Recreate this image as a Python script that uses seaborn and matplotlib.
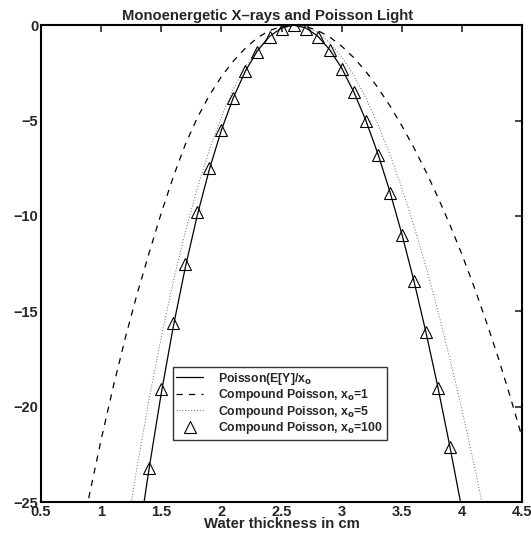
import matplotlib
matplotlib.use("Agg")
import matplotlib.pyplot as plt
import seaborn as sns
from matplotlib.lines import Line2D

# Poisson(E[Y]/x_o) solid line
x_poisson = [1.3, 1.4, 1.5, 1.6, 1.7, 1.8, 1.9, 2.0, 2.1, 2.2, 2.3, 2.4, 2.5, 2.6,
             2.7, 2.8, 2.9, 3.0, 3.1, 3.2, 3.3, 3.4, 3.5, 3.6, 3.7, 3.8, 3.9, 4.0]
y_poisson = [-27.4, -23.2, -19.3, -15.8, -12.7, -9.95, -7.56, -5.5, -3.79, -2.4, -1.34,
             -0.59, -0.15, 0.0, -0.14, -0.57, -1.28, -2.25, -3.49, -4.98, -6.72, -8.71,
             -10.94, -13.39, -16.08, -18.98, -22.1, -25.4]

# Compound Poisson, x_o=1 (dashed)
x_cp1 = [0.8, 0.9, 1.0, 1.1, 1.2, 1.3, 1.4, 1.5, 1.6, 1.7, 1.8, 1.9, 2.0, 2.1, 2.2,
         2.3, 2.4, 2.5, 2.6, 2.7, 2.8, 2.9, 3.0, 3.1, 3.2, 3.3, 3.4, 3.5, 3.6, 3.7,
         3.8, 3.9, 4.0, 4.1, 4.2, 4.3, 4.4, 4.5]
y_cp1 = [-27.9, -24.7, -21.74, -18.98, -16.42, -14.07, -11.92, -9.85, -7.95, -6.25,
         -4.85, -3.68, -2.7, -1.88, -1.2, -0.66, -0.28, -0.07, 0.0, -0.07, -0.28,
         -0.62, -1.1, -1.7, -2.42, -3.27, -4.22, -5.27, -6.42, -7.67, -9.02, -10.47,
         -12.02, -13.7, -15.5, -17.4, -19.45, -21.6]

# Compound Poisson, x_o=5 (dotted)
x_cp5 = [1.2, 1.3, 1.4, 1.5, 1.6, 1.7, 1.8, 1.9, 2.0, 2.1, 2.2, 2.3, 2.4, 2.5, 2.6,
         2.7, 2.8, 2.9, 3.0, 3.1, 3.2, 3.3, 3.4, 3.5, 3.6, 3.7, 3.8, 3.9, 4.0, 4.1, 4.2]
y_cp5 = [-26.98, -23.11, -19.57, -16.35, -13.44, -10.84, -8.54, -6.53, -4.8, -3.35,
         -2.16, -1.25, -0.58, -0.17, 0.0, -0.08, -0.38, -0.91, -1.66, -2.62, -3.8,
         -5.18, -6.76, -8.53, -10.5, -12.65, -14.98, -17.49, -20.17, -23.02, -26.03]

# Compound Poisson, x_o=100 (triangles)
x_cp100 = [1.4, 1.5, 1.6, 1.7, 1.8, 1.9, 2.0, 2.1, 2.2, 2.3, 2.4, 2.5, 2.6,
           2.7, 2.8, 2.9, 3.0, 3.1, 3.2, 3.3, 3.4, 3.5, 3.6, 3.7, 3.8, 3.9]
y_cp100 = [-23.2, -19.1, -15.6, -12.5, -9.8, -7.5, -5.5, -3.8, -2.4, -1.4, -0.6,
           -0.2, 0.0, -0.2, -0.6, -1.3, -2.3, -3.5, -5.0, -6.8, -8.8, -11.0, -13.4,
           -16.1, -19.0, -22.1]

x_ticks = [0.5, 1, 1.5, 2, 2.5, 3, 3.5, 4, 4.5]
x_ticklabels = ["0.5", "1", "1.5", "2", "2.5", "3", "3.5", "4", "4.5"]
y_ticks = [-25, -20, -15, -10, -5, 0]
y_ticklabels = ["\u221225", "\u221220", "\u221215", "\u221210", "\u22125", "0"]

labels = [r"Poisson(E[Y]/x$_{\mathbf{o}}$",
          r"Compound Poisson, x$_{\mathbf{o}}$=1",
          r"Compound Poisson, x$_{\mathbf{o}}$=5",
          r"Compound Poisson, x$_{\mathbf{o}}$=100"]

sns.set_style("white")
plt.rcParams["font.family"] = ["Liberation Sans", "DejaVu Sans"]
plt.rcParams["font.weight"] = "bold"
plt.rcParams["mathtext.default"] = "bf"

fig = plt.figure(figsize=(5.31, 5.34), dpi=100)
ax = fig.add_axes([0.0772, 0.0599, 0.906, 0.893])

sns.lineplot(x=x_poisson, y=y_poisson, ax=ax, color="k", linewidth=0.9, sort=False)
sns.lineplot(x=x_cp1, y=y_cp1, ax=ax, color="k", linewidth=0.9, linestyle=(0, (5, 5)), sort=False)
sns.lineplot(x=x_cp5, y=y_cp5, ax=ax, color="0.4", linewidth=0.7, linestyle=(0, (1, 2)), sort=False)
sns.lineplot(x=x_cp100, y=y_cp100, ax=ax, color="k", linestyle="none", marker="^",
             markersize=8.5, markerfacecolor="none", markeredgecolor="k", markeredgewidth=0.8,
             sort=False)

ax.set_xlim(0.5, 4.5)
ax.set_ylim(-25, 0)
ax.set_xticks(x_ticks)
ax.set_xticklabels(x_ticklabels)
ax.set_yticks(y_ticks)
ax.set_yticklabels(y_ticklabels)
ax.tick_params(direction="in", length=5, width=1.2, top=True, right=True,
               labelsize=10.5, pad=2)
for lab in ax.get_xticklabels() + ax.get_yticklabels():
    lab.set_fontweight("bold")
for sp in ax.spines.values():
    sp.set_color("k")
    sp.set_linewidth(1.5)

ax.set_title("Monoenergetic X\u2013rays and Poisson Light", fontsize=10.7,
             fontweight="bold", pad=4, x=0.47)
ax.set_xlabel("Water thickness in cm", fontsize=10.7, fontweight="bold", labelpad=-1)

handles = [
    Line2D([], [], color="k", linewidth=0.9),
    Line2D([], [], color="k", linewidth=0.9, linestyle=(0, (5, 5))),
    Line2D([], [], color="0.4", linewidth=0.7, linestyle=(0, (1, 2))),
    Line2D([], [], color="k", linestyle="none", marker="^", markersize=8.5,
           markerfacecolor="none", markeredgewidth=0.8),
]
leg = ax.legend(handles, labels, loc="lower left", bbox_to_anchor=(0.274, 0.13),
                borderaxespad=0, fancybox=False, frameon=True,
                handlelength=2.2, handletextpad=1.2, labelspacing=0.05,
                borderpad=0.3, prop={"weight": "bold", "size": 8.8})
leg.get_frame().set_edgecolor("k")
leg.get_frame().set_linewidth(1.0)

fig.savefig("out.png", dpi=100)
